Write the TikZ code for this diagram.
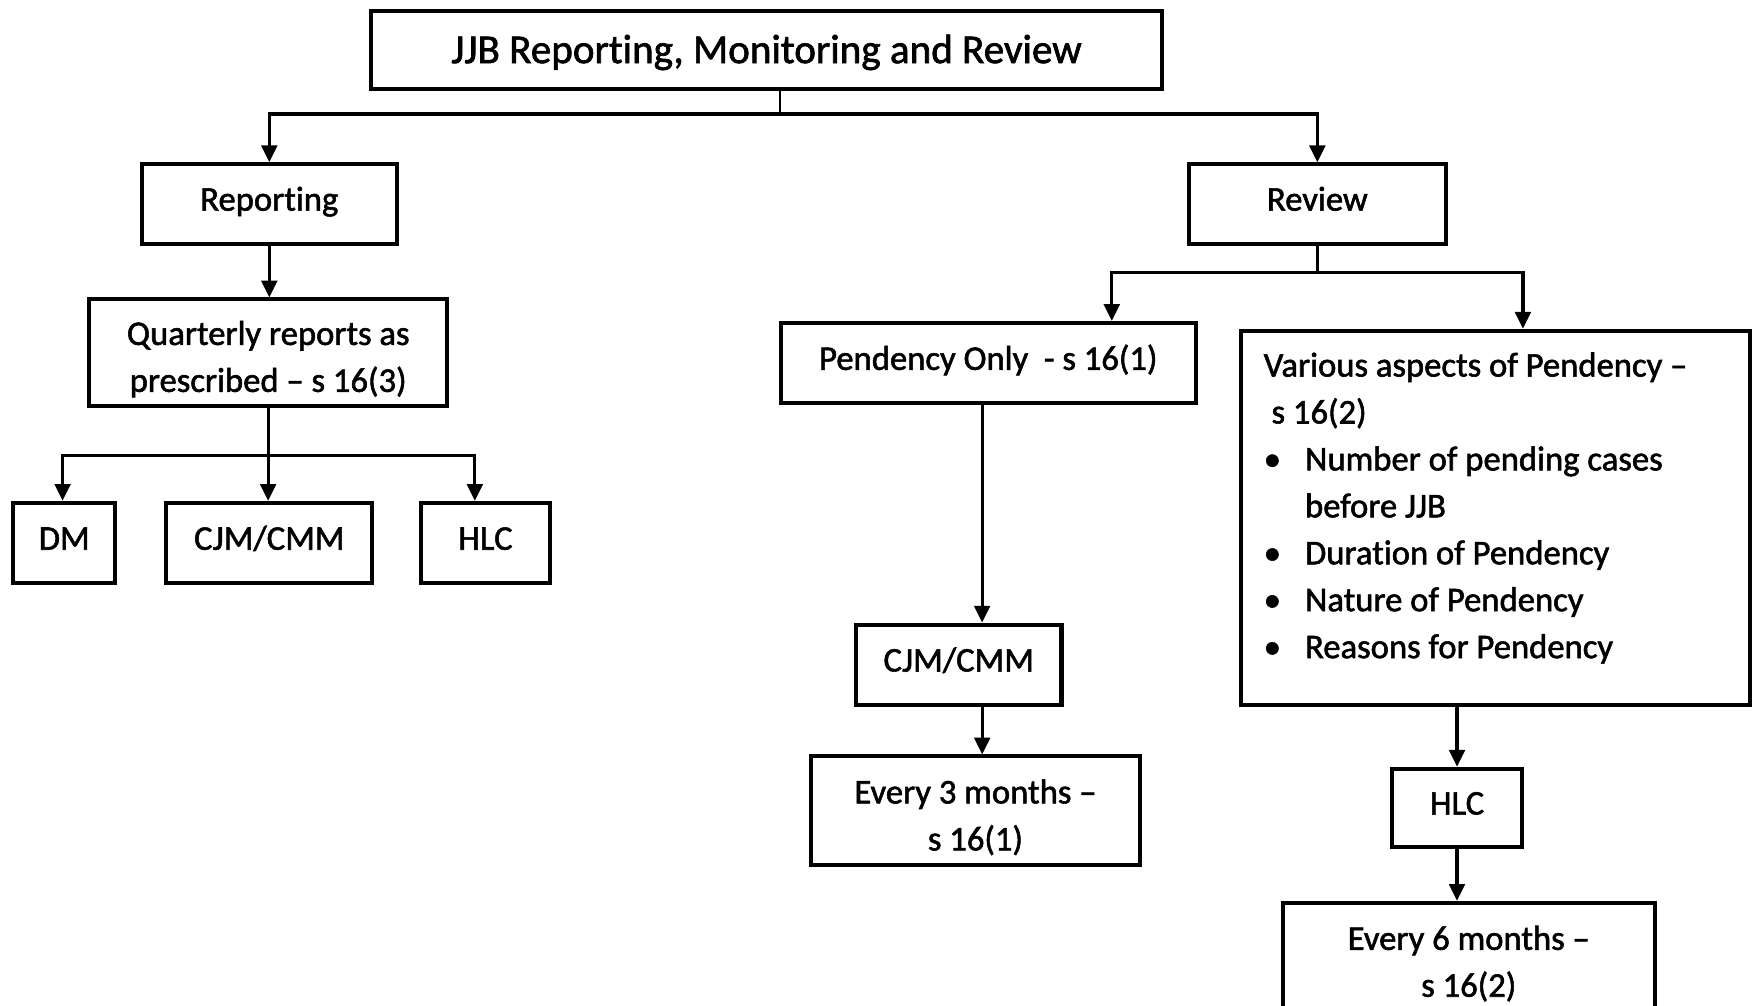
\documentclass[tikz,border=0pt]{standalone}
\usepackage{fontspec}
\setmainfont{Carlito}[Ligatures=CommonOff, FakeBold=1.6]
\usetikzlibrary{arrows.meta}
\newcommand\bulitem[1]{\makebox[18.5pt][l]{\textbullet}#1}
\newcommand\lowerfirst{\rule{0pt}{16.7pt}}
\begin{document}
\begin{tikzpicture}[x=0.5pt,y=-0.5pt,
  box/.style={draw, line width=1.8pt, inner sep=0pt, align=center,
    font=\fontsize{15.5}{21}\selectfont},
  one/.style={text height=10pt, text depth=4pt},
  conn/.style={line width=1.4pt},
  arr/.style={line width=1.4pt, -{Triangle[length=7.5pt,width=7pt]}}]
\useasboundingbox (0,0) rectangle (1568,900);
\clip (0,0) rectangle (1568,900);
\fill[white] (0,0) rectangle (1568,900);

\node[box, minimum width=354pt, minimum height=35pt, text height=13pt, text depth=1.5pt, font=\fontsize{18.4}{22}\selectfont] (title) at (686,45) {JJB Reporting, Monitoring and Review};
\node[box, one, minimum width=114pt, minimum height=35.5pt] (reporting) at (241,182.5) {Reporting};
\node[box, one, minimum width=115pt, minimum height=35.5pt] (review) at (1179,182.5) {Review};
\node[box, minimum width=160pt, minimum height=47.5pt] (quarterly) at (240,315.5) {\lowerfirst Quarterly reports as\\prescribed -- s 16(3)};
\node[box, one, minimum width=45.5pt, minimum height=36pt] (dm) at (57.5,486) {DM};
\node[box, one, minimum width=92pt, minimum height=36pt] (cjmA) at (241,486) {CJM/CMM};
\node[box, one, minimum width=57.5pt, minimum height=36pt] (hlcA) at (434.5,486) {HLC};
\node[box, one, minimum width=185.5pt, minimum height=36pt] (pendency) at (884.5,325) {Pendency Only\ \ - s 16(1)};
\node[box, minimum width=227.5pt, minimum height=167.5pt, inner xsep=10pt, align=left] (various) at (1338.5,463.5)
 {\begin{minipage}[c][167.5pt][t]{207.5pt}\fontsize{15.5}{21}\selectfont
  \rule{0pt}{20.5pt}Various aspects of Pendency --\\
  \hspace*{3.5pt}s 16(2)\\
  \bulitem{Number of pending cases}\\
  \hspace*{18.5pt}before JJB\\
  \bulitem{Duration of Pendency}\\
  \bulitem{Nature of Pendency}\\
  \bulitem{Reasons for Pendency}
  \end{minipage}};
\node[box, one, minimum width=92pt, minimum height=36pt] (cjmB) at (858,595) {CJM/CMM};
\node[box, minimum width=147pt, minimum height=48.5pt] (every3) at (873,725.5) {\lowerfirst Every 3 months --\\s 16(1)};
\node[box, one, minimum width=58pt, minimum height=35pt] (hlcB) at (1304,723) {HLC};
\node[box, minimum width=166.5pt, minimum height=48.5pt] (every6) at (1314.5,856.5) {\lowerfirst Every 6 months --\\s 16(2)};

\coordinate (tj) at (698,102);
\coordinate (qj) at (240,408);
\coordinate (rj) at (1179,244);

\draw[line width=0.8pt] (title.south -| tj) -- (tj);
\draw[arr] (tj) -| (reporting.north);
\draw[arr] (tj) -| (review.north);
\draw[arr] (reporting.south) -- (reporting.south |- quarterly.north);
\draw[conn] (quarterly.south) -- (qj);
\draw[arr] (qj) -| ([xshift=-0.75pt]dm.north);
\draw[arr] (qj) -- (qj |- cjmA.north);
\draw[arr] (qj) -| ([xshift=-4.75pt]hlcA.north);
\draw[conn] (review.south) -- (rj);
\draw[arr] (rj) -| ([xshift=55.25pt]pendency.north);
\draw[arr] (rj) -| ([xshift=12.25pt]various.north);
\draw[arr] ([xshift=-2.75pt]pendency.south) -- ([xshift=10.5pt]cjmB.north);
\draw[arr] ([xshift=10.5pt]cjmB.south) -- ([xshift=3pt]every3.north);
\draw[arr] (various.south -| hlcB.north) -- (hlcB.north);
\draw[arr] (hlcB.south) -- (hlcB.south |- every6.north);
\end{tikzpicture}
\end{document}
